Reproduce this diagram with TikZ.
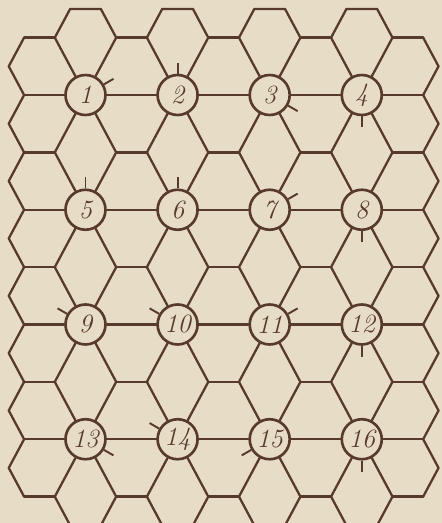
\documentclass[tikz,border=0pt]{standalone}
\usepackage{tikz}
\definecolor{paper}{RGB}{231,221,199}
\definecolor{ink}{RGB}{88,58,44}

\begin{document}
\begin{tikzpicture}[
x=0.614cm, y=1.1475cm, color=ink,
spot/.style={circle, draw, fill=paper, line width=1.5pt, minimum size=0.8cm, inner sep=0pt, font=\fontsize{15}{15}\selectfont\itshape},
hexline/.style={line width=1.3pt, line join=round, line cap=round},
notch/.style={line width=1.1pt}
]

% HOJA
\fill[paper, use as bounding box] (-2.785,1.656) rectangle (11.612,-7.46);
\clip (-2.785,1.656) rectangle (11.612,-7.46);

% CASILLAS
\node (c1) [spot] at (0,0) {1};
\node (c2) [spot] at (3,0) {2};
\node (c3) [spot] at (6,0) {3};
\node (c4) [spot] at (9,0) {4};
\node (c5) [spot] at (0,-2) {5};
\node (c6) [spot] at (3,-2) {6};
\node (c7) [spot] at (6,-2) {7};
\node (c8) [spot] at (9,-2) {8};
\node (c9) [spot] at (0,-4) {9};
\node (c10) [spot] at (3,-4) {10};
\node (c11) [spot] at (6,-4) {11};
\node (c12) [spot] at (9,-4) {12};
\node (c13) [spot] at (0,-6) {13};
\node (c14) [spot] at (3,-6) {14};
\node (c15) [spot] at (6,-6) {15};
\node (c16) [spot] at (9,-6) {16};

% FILAS
\draw[hexline] (c1) -- (c2) -- (c3) -- (c4);
\draw[hexline] (c5) -- (c6) -- (c7) -- (c8);
\draw[hexline] (c9) -- (c10) -- (c11) -- (c12);
\draw[hexline] (c13) -- (c14) -- (c15) -- (c16);
\foreach \n in {1,5,9,13} \draw[hexline] (c\n) -- ++(-2,0);
\foreach \n in {4,8,12,16} \draw[hexline] (c\n) -- ++(2,0);

% RADIOS
\foreach \n in {1,...,16}
  \foreach \dx/\dy in {1/1,-1/1,1/-1,-1/-1}
    \draw[hexline] (c\n) -- ++(\dx,\dy);

% LADOS CORTOS
\foreach \y in {1,-1,-3,-5,-7}
  \foreach \x in {-2,1,4,7,10}
    \draw[hexline] (\x,\y) -- ++(1,0);

% BORDES
\foreach \x in {0,3,6,9} {
  \draw[hexline] (\x-1,1) -- (\x-0.5,1.5) -- (\x+0.5,1.5) -- (\x+1,1);
  \draw[hexline] (\x-1,-7) -- (\x-0.5,-7.5) -- (\x+0.5,-7.5) -- (\x+1,-7);
}
\foreach \y in {1,0,...,-6} {
  \draw[hexline] (-2,\y) -- (-2.5,\y-0.5) -- (-2,\y-1);
  \draw[hexline] (11,\y) -- (11.5,\y-0.5) -- (11,\y-1);
}

% MARCAS
\foreach \n/\a in {1/30, 2/90, 3/330, 4/270, 5/90, 6/90, 7/30, 8/270,
                   9/150, 10/150, 11/30, 12/270, 13/330, 14/150, 15/210, 16/270}
  \draw[notch] (c\n.\a) -- ++(\a:0.22cm);

\end{tikzpicture}
\end{document}
